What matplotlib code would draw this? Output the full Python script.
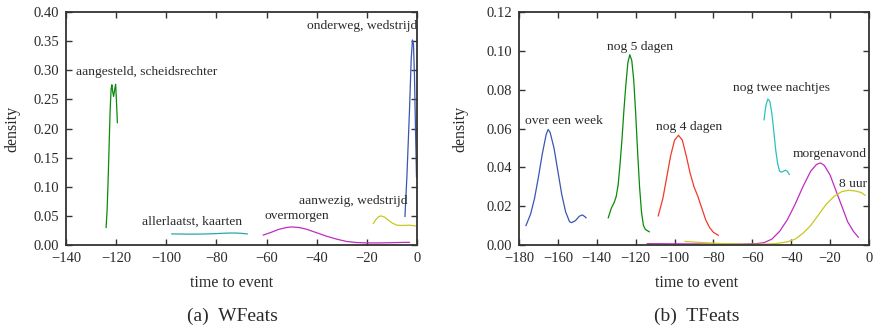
import matplotlib.pyplot as plt

plt.rcParams['font.family'] = ['Liberation Serif', 'DejaVu Serif']
plt.rcParams['axes.unicode_minus'] = True

# --- WFeats: density against time to event ---
w_aangesteld_x = [-124.0, -123.6, -123.2, -122.8, -122.4, -122.0, -121.7, -121.4, -121.0, -120.6, -120.2, -119.9, -119.5]
w_aangesteld_y = [0.030, 0.060, 0.110, 0.170, 0.230, 0.268, 0.275, 0.264, 0.255, 0.266, 0.276, 0.250, 0.210]

w_allerlaatst_x = [-97.8, -94, -90, -86, -82, -78, -75, -72, -69.5, -67.7]
w_allerlaatst_y = [0.0190, 0.0188, 0.0186, 0.0188, 0.0192, 0.0200, 0.0205, 0.0205, 0.0198, 0.0190]

w_overmorgen_x = [-61.3, -58, -55, -52, -50, -47, -44, -40, -36, -32, -28, -24, -20, -15, -10, -5, -3]
w_overmorgen_y = [0.017, 0.022, 0.027, 0.030, 0.031, 0.030, 0.027, 0.021, 0.015, 0.010, 0.006, 0.0042, 0.0035, 0.0036, 0.004, 0.0045, 0.0045]

w_aanwezig_x = [-17.4, -16.5, -15.5, -14.4, -13, -11.5, -10, -8, -6, -3, -1, 0]
w_aanwezig_y = [0.037, 0.043, 0.048, 0.050, 0.048, 0.043, 0.038, 0.034, 0.0335, 0.034, 0.033, 0.032]

w_onderweg_x = [-4.8, -4.0, -3.0, -2.3, -1.8, -1.4, -1.0, -0.6, -0.2]
w_onderweg_y = [0.049, 0.120, 0.230, 0.320, 0.352, 0.345, 0.290, 0.200, 0.117]

# --- TFeats ---
t_week_x = [-176.4, -174, -172, -170, -168, -166, -165, -164, -162, -160, -158, -156, -154, -153, -151, -149, -147.4, -146, -145.5]
t_week_y = [0.010, 0.016, 0.024, 0.035, 0.047, 0.057, 0.0595, 0.058, 0.050, 0.038, 0.026, 0.017, 0.012, 0.0115, 0.0125, 0.0148, 0.0155, 0.0145, 0.014]

t_5dagen_x = [-134.1, -132.5, -131, -130, -129, -128, -127, -126, -125, -124, -123, -122, -121, -120, -119, -118, -117, -116, -115, -113]
t_5dagen_y = [0.014, 0.019, 0.022, 0.025, 0.031, 0.042, 0.055, 0.070, 0.083, 0.094, 0.098, 0.095, 0.085, 0.068, 0.048, 0.030, 0.017, 0.010, 0.008, 0.0068]

t_4dagen_x = [-108.4, -106, -104, -102, -100, -98, -96, -94, -92, -90, -88, -86, -84, -82, -80, -77.5]
t_4dagen_y = [0.015, 0.024, 0.035, 0.046, 0.054, 0.0565, 0.054, 0.046, 0.037, 0.030, 0.025, 0.019, 0.013, 0.009, 0.0065, 0.005]

t_nachtjes_x = [-54, -53, -52, -51, -50, -49, -48, -47, -46, -45, -44, -43, -42, -41]
t_nachtjes_y = [0.0645, 0.072, 0.0752, 0.074, 0.068, 0.059, 0.049, 0.042, 0.038, 0.0375, 0.038, 0.0385, 0.038, 0.0363]

t_morgenavond_x = [-114, -100, -80, -65, -58, -54, -50, -46, -42, -38, -34, -30, -27, -25, -23, -20, -17, -14, -11, -8, -5.5]
t_morgenavond_y = [0.0007, 0.0006, 0.0005, 0.0005, 0.0007, 0.0012, 0.003, 0.007, 0.013, 0.021, 0.030, 0.038, 0.0415, 0.0423, 0.041, 0.036, 0.028, 0.020, 0.012, 0.007, 0.004]

t_8uur_x = [-94.6, -85, -75, -65, -55, -48, -42, -38, -34, -30, -26, -22, -18, -14, -10.5, -7, -4, -2]
t_8uur_y = [0.0018, 0.0012, 0.0007, 0.0004, 0.0004, 0.0007, 0.0016, 0.003, 0.006, 0.010, 0.0155, 0.021, 0.025, 0.0275, 0.0282, 0.0278, 0.027, 0.0256]

BLUE = '#3a55b4'
GREEN = '#0a8a0a'
TEAL = '#2aa8a8'
MAGENTA = '#c02cc0'
YELLOW = '#c8c81e'
RED = '#f03a2a'
CYAN = '#2cc0c0'
TXT = '#2a2a2a'

fig = plt.figure(figsize=(8.74, 3.30), dpi=100)
ax1 = fig.add_axes([0.0755, 0.2576, 0.4016, 0.706])
ax2 = fig.add_axes([0.5938, 0.2576, 0.4005, 0.706])


def style(ax, xlab_x, ylab_x):
    for s in ax.spines.values():
        s.set_color('#333333')
        s.set_linewidth(1.3)
    ax.tick_params(direction='in', length=4, width=1.0, color='#333333',
                   top=True, right=True, labelsize=10.5, labelcolor=TXT, pad=5)
    ax.set_xlabel('time to event', fontsize=11.5, color=TXT)
    ax.set_ylabel('density', fontsize=11.5, color=TXT)
    ax.xaxis.set_label_coords(xlab_x, -0.128)
    ax.yaxis.set_label_coords(ylab_x, 0.5)


lw = 0.9
ax1.plot(w_aangesteld_x, w_aangesteld_y, color=GREEN, lw=lw)
ax1.plot(w_allerlaatst_x, w_allerlaatst_y, color=TEAL, lw=lw)
ax1.plot(w_overmorgen_x, w_overmorgen_y, color=MAGENTA, lw=lw)
ax1.plot(w_aanwezig_x, w_aanwezig_y, color=YELLOW, lw=lw)
ax1.plot(w_onderweg_x, w_onderweg_y, color=BLUE, lw=lw)
ax1.set_xlim(-140, 0)
ax1.set_ylim(0, 0.40)
ax1.set_xticks(range(-140, 1, 20))
ax1.set_yticks([i * 0.05 for i in range(9)])
ax1.set_yticklabels([f'{i * 0.05:.2f}' for i in range(9)])
style(ax1, 0.472, -0.131)
for x, y, s in [(-136.0, 0.2975, 'aangesteld, scheidsrechter'),
                (-109.8, 0.040, 'allerlaatst, kaarten'),
                (-60.9, 0.0498, 'overmorgen'),
                (-46.9, 0.0755, 'aanwezig, wedstrijd')]:
    ax1.text(x, y, s, fontsize=9.7, color=TXT, va='center', ha='left')
ax1.text(0, 0.376, 'onderweg, wedstrijd', fontsize=9.7, color=TXT, va='center', ha='right')

ax2.plot(t_week_x, t_week_y, color=BLUE, lw=lw)
ax2.plot(t_5dagen_x, t_5dagen_y, color=GREEN, lw=lw)
ax2.plot(t_4dagen_x, t_4dagen_y, color=RED, lw=lw)
ax2.plot(t_nachtjes_x, t_nachtjes_y, color=CYAN, lw=lw)
ax2.plot(t_morgenavond_x, t_morgenavond_y, color=MAGENTA, lw=lw)
ax2.plot(t_8uur_x, t_8uur_y, color=YELLOW, lw=lw)
ax2.set_xlim(-180, 0)
ax2.set_ylim(0, 0.12)
ax2.set_xticks(range(-180, 1, 20))
ax2.set_yticks([i * 0.02 for i in range(7)])
ax2.set_yticklabels([f'{i * 0.02:.2f}' for i in range(7)])
style(ax2, 0.507, -0.146)
for x, y, s in [(-176.9, 0.0637, 'over een week'),
                (-134.9, 0.1019, 'nog 5 dagen'),
                (-109.7, 0.0606, 'nog 4 dagen'),
                (-69.8, 0.0808, 'nog twee nachtjes'),
                (-39.4, 0.0471, 'morgenavond'),
                (-15.4, 0.0316, '8 uur')]:
    ax2.text(x, y, s, fontsize=9.7, color=TXT, va='center', ha='left')

fig.text(0.2654, 0.042, '(a)  WFeats', fontsize=14, color=TXT, ha='center', va='center')
fig.text(0.797, 0.042, '(b)  TFeats', fontsize=14, color=TXT, ha='center', va='center')

fig.savefig('out.png', dpi=100)
